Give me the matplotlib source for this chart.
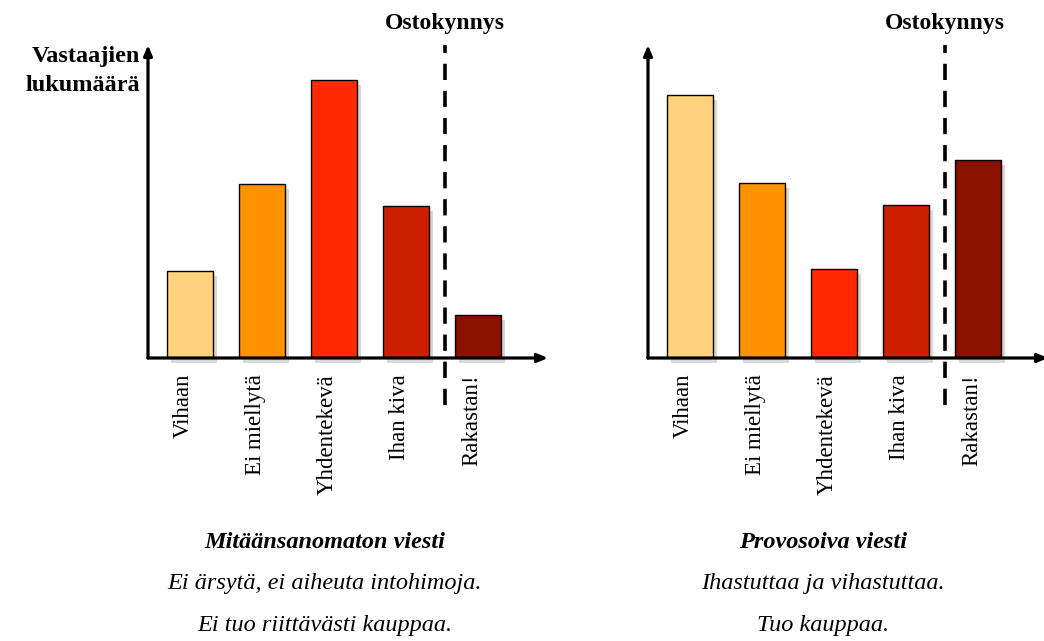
import matplotlib
matplotlib.use("Agg")
import matplotlib.pyplot as plt

categories = ["Vihaan", "Ei miellytä", "Yhdentekevä", "Ihan kiva", "Rakastan!"]
values_left = [87, 174, 278, 152, 43]
values_right = [263, 175, 89, 153, 198]
colors = ["#FED27C", "#FF9200", "#FF2A00", "#CC2000", "#8A1000"]

y_label = "Vastaajien\nlukumäärä"
threshold_label = "Ostokynnys"
left_texts = ["Mitäänsanomaton viesti", "Ei ärsytä, ei aiheuta intohimoja.", "Ei tuo riittävästi kauppaa."]
right_texts = ["Provosoiva viesti", "Ihastuttaa ja vihastuttaa.", "Tuo kauppaa."]

W, H = 1044, 641
fig = plt.figure(figsize=(W / 100, H / 100), dpi=100)
SERIF = "Liberation Serif"


def make_panel(x0, x1, base, top, values, texts, text_cx):
    ax = fig.add_axes([x0 / W, (H - base) / H, (x1 - x0) / W, (base - top) / H])
    ax.set_xlim(-0.583, 4.97)
    ax.set_ylim(0, 313)
    for s in ax.spines.values():
        s.set_visible(False)
    ax.set_xticks([])
    ax.set_yticks([])
    ax.patch.set_alpha(0)
    xs = list(range(len(values)))
    # shadows
    ax.bar([x + 0.05 for x in xs], values, width=0.64, bottom=-5,
           color="#bdbdbd", alpha=0.6, linewidth=0, clip_on=False, zorder=1)
    ax.bar(xs, values, width=0.64, color=colors, edgecolor="black", linewidth=1.0, zorder=2)
    # axes arrows
    ax.annotate("", xy=(1.0, 0), xytext=(0, 0), xycoords="axes fraction",
                arrowprops=dict(arrowstyle="-|>,head_length=0.6,head_width=0.25", lw=2.3, color="black",
                                shrinkA=0, shrinkB=0), zorder=5)
    ax.annotate("", xy=(0, 1.0), xytext=(0, 0), xycoords="axes fraction",
                arrowprops=dict(arrowstyle="-|>,head_length=0.6,head_width=0.25", lw=2.3, color="black",
                                shrinkA=0, shrinkB=0), zorder=5)
    # threshold
    ax.plot([3.54, 3.54], [-47, 313], color="black", lw=2.6, linestyle=(0, (4.5, 3)),
            clip_on=False, zorder=4)
    ax.text(3.54, 335, threshold_label, ha="center", va="center", fontsize=17,
            fontweight="bold", family=SERIF, clip_on=False)
    for x, c in zip(xs, categories):
        ax.text(x - 0.09, -16, c, rotation=90, ha="center", va="top", fontsize=16.5,
                family=SERIF, clip_on=False)
    fig.text(text_cx / W, 1 - 543 / H, texts[0], ha="center", va="center", fontsize=17.5,
             family=SERIF, fontweight="bold", style="italic")
    fig.text(text_cx / W, 1 - 583 / H, texts[1], ha="center", va="center", fontsize=17.5,
             family=SERIF, style="italic")
    fig.text(text_cx / W, 1 - 625 / H, texts[2], ha="center", va="center", fontsize=17.5,
             family=SERIF, style="italic")
    return ax


make_panel(148, 548, 358, 45, values_left, left_texts, 325)
make_panel(648, 1048, 358, 45, values_right, right_texts, 823)
fig.text(140 / W, 1 - 71 / H, y_label, ha="right", va="center", fontsize=17.5, family=SERIF,
         fontweight="bold", linespacing=1.45)

fig.savefig("out.png", dpi=100, facecolor="white")
